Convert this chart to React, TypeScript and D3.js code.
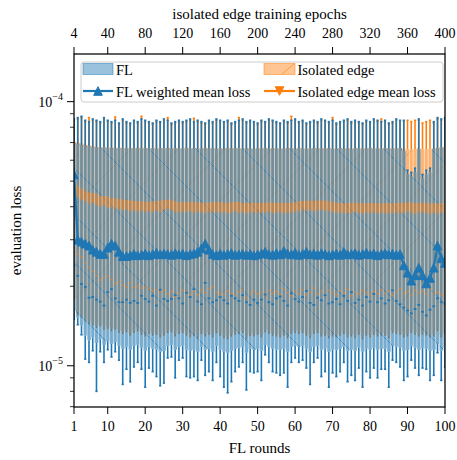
import React from "react";
import * as d3 from "d3";

const svgWidth = 457;
const svgHeight = 460;
const plot = { left: 74, right: 445, top: 54, bottom: 407 };
const font = "'Liberation Serif', 'Times New Roman', serif";
const blue = "#1f77b4";
const orange = "#ff7f0e";

// values below are in units of 1e-5
const U = 1e-5;

const roundTicks = [1, 10, 20, 30, 40, 50, 60, 70, 80, 90, 100];
const epochTicks = [4, 40, 80, 120, 160, 200, 240, 280, 320, 360, 400];
const yMajorTicks = [1e-5, 1e-4];
const yMinorTicks = [7e-6, 8e-6, 9e-6, 2e-5, 3e-5, 4e-5, 5e-5, 6e-5, 7e-5, 8e-5, 9e-5];

// FL (box per round)
const flMax = [
  8.6, 8.7, 8.8, 8.5, 8.4, 8.6, 8.5, 8.4, 8.7, 8.5,
  8.4, 8.5, 8.3, 8.6, 8.4, 8.3, 8.5, 8.4, 8.6, 8.5,
  8.4, 8.3, 8.5, 8.4, 8.6, 8.5, 8.3, 8.4, 8.5, 8.4,
  8.5, 8.6, 8.4, 8.5, 8.4, 8.3, 8.5, 8.4, 8.6, 8.5,
  8.4, 8.5, 8.3, 8.4, 8.5, 8.6, 8.4, 8.5, 8.4, 8.3,
  8.5, 8.4, 8.6, 8.5, 8.4, 8.3, 8.5, 8.4, 8.5, 8.6,
  8.4, 8.5, 8.3, 8.4, 8.5, 8.4, 8.6, 8.5, 8.4, 8.5,
  8.3, 8.4, 8.5, 8.6, 8.4, 8.5, 8.4, 8.3, 8.5, 8.4,
  8.6, 8.5, 8.4, 8.5, 8.3, 8.4, 8.6, 8.5, 8.5, 5.5,
  5.4, 5.6, 8.6, 5.3, 5.5, 5.6, 8.4, 8.7, 8.6, 8.7,
];
const flQ3 = [
  6.95, 6.9, 6.85, 6.8, 6.76, 6.72, 6.7, 6.68, 6.7, 6.66,
  6.68, 6.65, 6.67, 6.64, 6.66, 6.63, 6.65, 6.67, 6.64, 6.66,
  6.63, 6.65, 6.62, 6.66, 6.64, 6.67, 6.63, 6.65, 6.62, 6.64,
  6.66, 6.63, 6.65, 6.62, 6.64, 6.66, 6.63, 6.65, 6.61, 6.64,
  6.62, 6.65, 6.63, 6.66, 6.64, 6.62, 6.65, 6.63, 6.61, 6.64,
  6.63, 6.66, 6.62, 6.64, 6.65, 6.61, 6.63, 6.66, 6.64, 6.62,
  6.65, 6.63, 6.61, 6.64, 6.66, 6.62, 6.64, 6.63, 6.65, 6.61,
  6.63, 6.66, 6.62, 6.64, 6.61, 6.65, 6.63, 6.62, 6.64, 6.66,
  6.62, 6.64, 6.61, 6.65, 6.63, 6.62, 6.64, 6.66, 6.5, 5.3,
  5.2, 5.4, 6.6, 5.1, 5.3, 5.4, 6.62, 6.66, 6.7, 6.72,
];
const flMedian = [
  2.4, 2.19, 2.04, 1.99, 1.81, 1.82, 1.78, 1.75, 1.69, 1.9,
  1.95, 1.8, 1.74, 1.74, 1.78, 1.73, 1.76, 1.73, 1.84, 1.79,
  1.75, 1.84, 1.69, 1.94, 1.79, 1.76, 1.79, 1.85, 1.8, 1.72,
  1.89, 1.82, 1.95, 1.75, 1.71, 2.06, 1.8, 1.74, 1.77, 1.82,
  1.77, 1.72, 1.84, 1.8, 1.76, 1.85, 1.74, 1.7, 1.78, 1.73,
  1.78, 1.86, 1.74, 1.71, 1.8, 1.83, 1.76, 1.69, 1.88, 1.79,
  1.75, 1.82, 1.92, 1.73, 1.7, 1.81, 1.77, 1.85, 1.72, 1.74,
  1.79, 1.71, 1.84, 1.76, 1.9, 1.73, 1.78, 1.69, 1.82, 1.75,
  1.87, 1.74, 1.8, 1.72, 1.77, 1.93, 1.76, 1.71, 1.66, 1.62,
  1.58, 1.64, 1.7, 1.6, 1.55, 1.63, 1.68, 1.8, 1.74, 1.72,
];
const flQ1 = [
  1.62, 1.52, 1.42, 1.3, 1.25, 1.28, 1.22, 1.26, 1.2, 1.24,
  1.21, 1.23, 1.19, 1.16, 1.18, 1.15, 1.19, 1.2, 1.17, 1.14,
  1.18, 1.16, 1.15, 1.13, 1.14, 1.19, 1.2, 1.15, 1.18, 1.19,
  1.15, 1.14, 1.15, 1.13, 1.18, 1.15, 1.16, 1.13, 1.19, 1.15,
  1.13, 1.12, 1.14, 1.16, 1.17, 1.18, 1.12, 1.16, 1.15, 1.16,
  1.14, 1.2, 1.18, 1.16, 1.15, 1.15, 1.16, 1.13, 1.18, 1.19,
  1.18, 1.19, 1.16, 1.13, 1.18, 1.19, 1.15, 1.16, 1.13, 1.15,
  1.15, 1.16, 1.18, 1.14, 1.15, 1.14, 1.17, 1.13, 1.16, 1.15,
  1.17, 1.15, 1.16, 1.16, 1.13, 1.19, 1.18, 1.17, 1.14, 1.15,
  1.19, 1.17, 1.15, 1.17, 1.16, 1.14, 1.15, 1.21, 1.14, 1.17,
];
const flMin = [
  1.5, 1.43, 1.31, 1.06, 1.03, 1.14, 0.8, 1.13, 1.03, 1.15,
  1.08, 1.13, 1.05, 0.85, 0.97, 0.87, 0.99, 1.03, 0.97, 0.83,
  0.98, 0.95, 0.91, 0.84, 0.86, 1.07, 1.08, 0.9, 1.05, 1.07,
  0.91, 0.9, 0.91, 0.88, 1.05, 0.92, 0.95, 0.88, 1.03, 0.91,
  0.83, 0.79, 0.87, 0.95, 0.99, 1.03, 0.81, 0.95, 0.94, 0.95,
  0.88, 1.1, 1.03, 0.95, 0.94, 0.92, 0.94, 0.83, 1.03, 1.07,
  1.03, 1.05, 0.98, 0.85, 1.03, 1.07, 0.91, 0.95, 0.83, 0.94,
  0.91, 0.95, 1.03, 0.87, 0.92, 0.88, 0.98, 0.83, 0.95, 0.9,
  0.98, 0.9, 0.97, 0.97, 0.83, 1.05, 1.03, 0.99, 0.88, 0.91,
  1.05, 0.98, 0.92, 0.98, 0.97, 0.88, 0.92, 1.12, 0.88, 0.99,
];
const flMean = [
  5.3, 3.0, 2.95, 2.9, 2.85, 2.75, 2.7, 2.65, 2.65, 2.8,
  2.9, 2.85, 2.7, 2.6, 2.6, 2.62, 2.65, 2.62, 2.63, 2.66,
  2.62, 2.65, 2.68, 2.64, 2.66, 2.65, 2.63, 2.67, 2.64, 2.66,
  2.62, 2.65, 2.66, 2.7, 2.78, 2.9, 2.75, 2.65, 2.62, 2.66,
  2.63, 2.65, 2.67, 2.63, 2.64, 2.66, 2.63, 2.65, 2.62, 2.64,
  2.66, 2.7, 2.65, 2.63, 2.67, 2.64, 2.72, 2.66, 2.64, 2.68,
  2.63, 2.65, 2.7, 2.64, 2.66, 2.63, 2.67, 2.65, 2.62, 2.64,
  2.66, 2.63, 2.7, 2.64, 2.65, 2.67, 2.63, 2.65, 2.68, 2.64,
  2.66, 2.62, 2.65, 2.67, 2.64, 2.66, 2.63, 2.65, 2.4, 2.25,
  2.1, 2.2, 2.35, 2.2, 2.05, 2.15, 2.35, 2.85, 2.55, 2.45,
];

// Isolated edge (box per round)
const isoMax = [
  8.5, 8.6, 8.7, 8.4, 8.7, 8.5, 8.4, 8.3, 8.6, 8.4,
  8.3, 8.75, 8.2, 8.5, 8.3, 8.2, 8.4, 8.3, 8.8, 8.4,
  8.3, 8.2, 8.4, 8.3, 8.5, 8.7, 8.2, 8.3, 8.4, 8.3,
  8.4, 8.5, 8.65, 8.4, 8.3, 8.2, 8.4, 8.3, 8.5, 8.4,
  8.3, 8.4, 8.2, 8.3, 8.7, 8.5, 8.3, 8.4, 8.3, 8.2,
  8.4, 8.3, 8.5, 8.4, 8.3, 8.2, 8.4, 8.3, 8.8, 8.5,
  8.3, 8.4, 8.2, 8.3, 8.4, 8.3, 8.5, 8.4, 8.3, 8.7,
  8.2, 8.3, 8.4, 8.5, 8.3, 8.4, 8.3, 8.2, 8.4, 8.3,
  8.5, 8.4, 8.6, 8.4, 8.2, 8.3, 8.5, 8.4, 8.4, 8.5,
  8.4, 8.5, 8.5, 8.3, 8.4, 8.5, 8.3, 8.6, 8.5, 8.6,
];
const isoQ3 = [
  7.05, 7.0, 6.95, 6.88, 6.82, 6.78, 6.74, 6.72, 6.72, 6.7,
  6.7, 6.68, 6.7, 6.67, 6.69, 6.66, 6.68, 6.7, 6.67, 6.69,
  6.66, 6.68, 6.65, 6.69, 6.67, 6.7, 6.66, 6.68, 6.65, 6.67,
  6.69, 6.66, 6.68, 6.65, 6.67, 6.69, 6.66, 6.68, 6.64, 6.67,
  6.65, 6.68, 6.66, 6.69, 6.67, 6.65, 6.68, 6.66, 6.64, 6.67,
  6.66, 6.69, 6.65, 6.67, 6.68, 6.64, 6.66, 6.69, 6.67, 6.65,
  6.68, 6.66, 6.64, 6.67, 6.69, 6.65, 6.67, 6.66, 6.68, 6.64,
  6.66, 6.69, 6.65, 6.67, 6.64, 6.68, 6.66, 6.65, 6.67, 6.69,
  6.65, 6.67, 6.64, 6.68, 6.66, 6.65, 6.67, 6.69, 6.64, 6.6,
  6.58, 6.62, 6.66, 6.6, 6.61, 6.63, 6.65, 6.69, 6.72, 6.74,
];
const isoMedian = [
  2.75, 2.65, 2.58, 2.45, 2.36, 2.28, 2.19, 2.11, 2.15, 2.19,
  2.12, 2.05, 2.08, 2.02, 1.99, 2.06, 1.98, 2.01, 1.97, 1.99,
  1.95, 1.92, 1.94, 1.9, 1.93, 1.87, 1.91, 1.82, 1.88, 1.93,
  1.9, 1.86, 1.91, 1.86, 1.93, 1.89, 1.95, 1.99, 1.9, 1.87,
  1.86, 1.92, 1.88, 1.86, 1.9, 1.94, 1.81, 1.88, 1.92, 1.87,
  1.9, 1.85, 1.93, 1.88, 1.91, 1.86, 1.95, 1.89, 1.84, 1.92,
  1.88, 1.94, 1.86, 1.9, 1.97, 1.87, 1.91, 1.85, 1.93, 1.89,
  1.86, 1.92, 1.88, 1.95, 1.84, 1.9, 1.87, 1.93, 1.89, 1.86,
  1.91, 1.87, 1.94, 1.88, 1.92, 1.85, 1.9, 1.96, 1.88, 1.91,
  1.86, 1.93, 1.89, 1.92, 1.87, 1.95, 1.88, 1.9, 1.86, 1.91,
];
const isoQ1 = [
  1.8, 1.58, 1.55, 1.5, 1.47, 1.45, 1.42, 1.44, 1.4, 1.41,
  1.38, 1.4, 1.36, 1.35, 1.37, 1.33, 1.36, 1.38, 1.34, 1.32,
  1.35, 1.33, 1.34, 1.31, 1.33, 1.36, 1.37, 1.32, 1.35, 1.36,
  1.33, 1.31, 1.33, 1.3, 1.35, 1.32, 1.34, 1.31, 1.36, 1.33,
  1.3, 1.29, 1.32, 1.34, 1.35, 1.36, 1.29, 1.33, 1.32, 1.34,
  1.31, 1.37, 1.35, 1.33, 1.32, 1.31, 1.33, 1.3, 1.35, 1.36,
  1.35, 1.36, 1.33, 1.3, 1.35, 1.36, 1.32, 1.33, 1.3, 1.32,
  1.31, 1.33, 1.35, 1.31, 1.32, 1.3, 1.34, 1.29, 1.33, 1.31,
  1.34, 1.32, 1.33, 1.33, 1.3, 1.36, 1.35, 1.34, 1.31, 1.32,
  1.36, 1.34, 1.32, 1.34, 1.33, 1.31, 1.32, 1.38, 1.31, 1.34,
];
const isoMin = [
  1.77, 1.55, 1.52, 1.47, 1.44, 1.42, 1.39, 1.41, 1.37, 1.38,
  1.35, 1.37, 1.33, 1.32, 1.34, 1.3, 1.33, 1.35, 1.31, 1.29,
  1.32, 1.3, 1.31, 1.28, 1.3, 1.33, 1.34, 1.29, 1.32, 1.33,
  1.3, 1.28, 1.3, 1.27, 1.32, 1.29, 1.31, 1.28, 1.33, 1.3,
  1.27, 1.26, 1.29, 1.31, 1.32, 1.33, 1.26, 1.3, 1.29, 1.31,
  1.28, 1.34, 1.32, 1.3, 1.29, 1.28, 1.3, 1.27, 1.32, 1.33,
  1.32, 1.33, 1.3, 1.27, 1.32, 1.33, 1.29, 1.3, 1.27, 1.29,
  1.28, 1.3, 1.32, 1.28, 1.29, 1.27, 1.31, 1.26, 1.3, 1.28,
  1.31, 1.29, 1.3, 1.3, 1.27, 1.33, 1.32, 1.31, 1.28, 1.29,
  1.33, 1.31, 1.29, 1.31, 1.3, 1.28, 1.29, 1.35, 1.28, 1.31,
];
const isoMean = [
  4.6, 4.5, 4.4, 4.35, 4.25, 4.3, 4.2, 4.15, 4.2, 4.1,
  4.12, 4.05, 4.08, 4.02, 4.05, 3.98, 4.02, 3.97, 4.0, 3.96,
  3.99, 3.95, 4.01, 3.96, 4.04, 4.06, 4.02, 3.97, 3.94, 3.98,
  3.95, 3.99, 3.93, 3.97, 3.95, 3.92, 3.96, 3.94, 3.98, 3.93,
  3.96, 3.92, 3.95, 3.98, 3.93, 3.95, 3.91, 3.96, 3.94, 3.92,
  3.95, 3.93, 3.97, 3.92, 3.94, 3.96, 3.91, 3.95, 3.93, 3.97,
  3.99, 4.02, 4.0, 4.03, 3.98, 4.01, 4.04, 3.99, 4.0, 3.96,
  3.93, 3.95, 3.91, 3.94, 3.92, 3.96, 3.93, 3.9, 3.94, 3.92,
  3.95, 3.91, 3.93, 3.9, 3.94, 3.92, 3.95, 3.91, 3.93, 3.97,
  3.94, 3.9, 3.93, 3.96, 3.92, 3.89, 3.93, 3.91, 3.94, 3.92,
];

const rounds = flMean.map((_, i) => i + 1);

const triUp = (cx: number, cy: number, s = 4.3) =>
  `M${cx},${cy - s}L${cx + s},${cy + s}L${cx - s},${cy + s}Z`;
const triDown = (cx: number, cy: number, s = 4.3) =>
  `M${cx},${cy + s}L${cx + s},${cy - s}L${cx - s},${cy - s}Z`;

const App = () => {
  const x = d3.scaleLinear().domain([1, 100]).range([plot.left, plot.right]);
  const y = d3.scaleLog().domain([6.98e-6, 1.515e-4]).range([plot.bottom, plot.top]);
  const step = x(2) - x(1);
  const boxW = step;
  const capHalf = 1.1;

  const meanLine = d3
    .line<number>()
    .x((_, i) => x(rounds[i]))
    .y((d) => y(d * U));

  // sparse hatch diagonals
  const hatchK = d3.range(-12, 14);

  const boxRect = (lo: number, hi: number, cx: number, w: number) => ({
    x: cx - w / 2,
    y: y(hi * U),
    width: w,
    height: y(lo * U) - y(hi * U),
  });

  return (
    <svg
      width={svgWidth}
      height={svgHeight}
      style={{ position: "absolute", left: 0, top: 0, background: "white" }}
      fontFamily={font}
    >
      <defs>
        <clipPath id="plotArea">
          <rect
            x={plot.left}
            y={plot.top}
            width={plot.right - plot.left}
            height={plot.bottom - plot.top}
          />
        </clipPath>
        <clipPath id="isoBoxes">
          {rounds.map((r, i) => (
            <rect key={i} {...boxRect(isoQ1[i], isoQ3[i], x(r), boxW)} />
          ))}
        </clipPath>
        <clipPath id="flBoxes">
          {rounds.map((r, i) => (
            <rect key={i} {...boxRect(flQ1[i], flQ3[i], x(r), boxW)} />
          ))}
        </clipPath>
        <clipPath id="isoPatch">
          <rect x={264} y={63.5} width={31} height={11} />
        </clipPath>
      </defs>

      <g clipPath="url(#plotArea)">
        {/* isolated edge boxes */}
        {rounds.map((r, i) => (
          <rect
            key={"ib" + i}
            {...boxRect(isoQ1[i], isoQ3[i], x(r), boxW)}
            fill={orange}
            fillOpacity={0.6}
          />
        ))}
        <g clipPath="url(#isoBoxes)">
          {hatchK.map((k) => (
            <line
              key={"ih" + k}
              x1={280 + 47 * k + 300}
              y1={-300}
              x2={280 + 47 * k - 300}
              y2={300}
              stroke={orange}
              strokeOpacity={0.55}
              strokeWidth={1}
            />
          ))}
        </g>
        {rounds.map((r, i) => {
          const cx = x(r);
          return (
            <g key={"iw" + i} stroke={orange} strokeWidth={1.6}>
              <line x1={cx} x2={cx} y1={y(isoQ3[i] * U)} y2={y(isoMax[i] * U)} />
              <line x1={cx} x2={cx} y1={y(isoQ1[i] * U)} y2={y(isoMin[i] * U)} />
              <line x1={cx - capHalf} x2={cx + capHalf} y1={y(isoMax[i] * U)} y2={y(isoMax[i] * U)} />
            </g>
          );
        })}
        {/* separators of the isolated edge boxes where they stick out */}
        {rounds.map((r, i) =>
          isoQ3[i] > flQ3[i] + 0.3 ? (
            <line
              key={"is" + i}
              x1={x(r) - step / 2}
              x2={x(r) - step / 2}
              y1={y(isoQ3[i] * U)}
              y2={y(flQ3[i] * U)}
              stroke="#fff4e8"
              strokeOpacity={0.6}
              strokeWidth={1}
            />
          ) : null
        )}

        {/* FL boxes */}
        {rounds.map((r, i) => (
          <rect
            key={"fb" + i}
            {...boxRect(flQ1[i], flQ3[i], x(r), boxW)}
            fill={blue}
            fillOpacity={0.62}
          />
        ))}
        <g clipPath="url(#flBoxes)">
          {hatchK.map((k) => (
            <line
              key={"fh" + k}
              x1={123 + 47 * k - 300}
              y1={170 - 300}
              x2={123 + 47 * k + 300}
              y2={170 + 300}
              stroke={blue}
              strokeOpacity={0.65}
              strokeWidth={1}
            />
          ))}
        </g>
        {/* isolated edge median and mean, seen through the FL boxes */}
        {rounds.map((r, i) => (
          <line
            key={"imd" + i}
            x1={x(r) - step * 0.38}
            x2={x(r) + step * 0.38}
            y1={y(isoMedian[i] * U)}
            y2={y(isoMedian[i] * U)}
            stroke={orange}
            strokeOpacity={0.45}
            strokeWidth={1.8}
          />
        ))}
        <g opacity={0.5}>
          <path d={meanLine(isoMean) || ""} fill="none" stroke={orange} strokeWidth={2.2} />
          {rounds.map((r, i) => (
            <path
              key={"im" + i}
              d={triDown(x(r), y(isoMean[i] * U), 4.7)}
              fill={orange}
              stroke={orange}
              strokeWidth={1}
            />
          ))}
        </g>
        {/* light box separators */}
        {rounds.map((r, i) => (
          <line
            key={"fs" + i}
            x1={x(r) - step / 2}
            x2={x(r) - step / 2}
            y1={y(Math.min(flQ3[i], isoQ3[i]) * U)}
            y2={y(flQ1[i] * U)}
            stroke="#fff4e8"
            strokeOpacity={0.55}
            strokeWidth={1}
          />
        ))}
        {rounds.map((r, i) => {
          const cx = x(r);
          return (
            <g key={"fw" + i} stroke={blue} strokeWidth={1.6}>
              <line x1={cx} x2={cx} y1={y(flQ3[i] * U)} y2={y(flMax[i] * U)} />
              <line x1={cx} x2={cx} y1={y(flQ1[i] * U)} y2={y(flMin[i] * U)} />
              <line x1={cx - capHalf} x2={cx + capHalf} y1={y(flMax[i] * U)} y2={y(flMax[i] * U)} />
              <line x1={cx - capHalf} x2={cx + capHalf} y1={y(flMin[i] * U)} y2={y(flMin[i] * U)} />
              <line x1={cx - step * 0.38} x2={cx + step * 0.38} y1={y(flMedian[i] * U)} y2={y(flMedian[i] * U)} strokeWidth={1.8} />
            </g>
          );
        })}
        <path d={meanLine(flMean) || ""} fill="none" stroke={blue} strokeWidth={2.2} />
        {rounds.map((r, i) => (
          <path
            key={"fm" + i}
            d={triUp(x(r), y(flMean[i] * U))}
            fill={blue}
            stroke={blue}
            strokeWidth={1}
          />
        ))}
      </g>

      {/* frame */}
      <rect
        x={plot.left}
        y={plot.top}
        width={plot.right - plot.left}
        height={plot.bottom - plot.top}
        fill="none"
        stroke="black"
        strokeWidth={1.25}
      />

      {/* bottom axis */}
      {roundTicks.map((t) => (
        <g key={"bt" + t}>
          <line x1={x(t)} x2={x(t)} y1={plot.bottom} y2={plot.bottom + 7} stroke="black" strokeWidth={1} />
          <text x={x(t)} y={plot.bottom + 24} textAnchor="middle" fontSize={14}>
            {t}
          </text>
        </g>
      ))}
      <text x={(plot.left + plot.right) / 2} y={453} textAnchor="middle" fontSize={15}>
        FL rounds
      </text>

      {/* top axis */}
      {epochTicks.map((t) => (
        <g key={"tt" + t}>
          <line x1={x(t / 4)} x2={x(t / 4)} y1={plot.top} y2={plot.top - 7} stroke="black" strokeWidth={1} />
          <text x={x(t / 4)} y={plot.top - 16} textAnchor="middle" fontSize={14}>
            {t}
          </text>
        </g>
      ))}
      <text x={(plot.left + plot.right) / 2} y={19} textAnchor="middle" fontSize={15}>
        isolated edge training epochs
      </text>

      {/* left axis */}
      {yMajorTicks.map((t) => (
        <g key={"ym" + t}>
          <line x1={plot.left} x2={plot.left - 7} y1={y(t)} y2={y(t)} stroke="black" strokeWidth={1} />
          <text x={plot.left - 11} y={y(t) + 5} textAnchor="end" fontSize={14}>
            10
            <tspan dy={-7} fontSize={10}>
              {"\u2212" + Math.round(-Math.log10(t))}
            </tspan>
          </text>
        </g>
      ))}
      {yMinorTicks.map((t) => (
        <line key={"yn" + t} x1={plot.left} x2={plot.left - 4} y1={y(t)} y2={y(t)} stroke="black" strokeWidth={0.8} />
      ))}
      <text
        transform={`translate(21,${(plot.top + plot.bottom) / 2}) rotate(-90)`}
        textAnchor="middle"
        fontSize={15}
      >
        evaluation loss
      </text>

      {/* legend */}
      <rect x={81} y={62} width={362} height={40} rx={3} fill="white" fillOpacity={0.8} stroke="#cccccc" strokeWidth={1} />
      <rect x={83} y={63.5} width={30} height={11} fill={blue} fillOpacity={0.45} stroke={blue} strokeOpacity={0.5} strokeWidth={1} />
      <text x={116} y={74.5} fontSize={14.5}>FL</text>
      <line x1={83} x2={113} y1={91} y2={91} stroke={blue} strokeWidth={2.2} />
      <path d={triUp(98, 91)} fill={blue} stroke={blue} strokeWidth={1} />
      <text x={116} y={96.5} fontSize={14.5}>FL weighted mean loss</text>

      <rect x={264} y={63.5} width={31} height={11} fill={orange} fillOpacity={0.45} stroke={orange} strokeOpacity={0.5} strokeWidth={1} />
      <g clipPath="url(#isoPatch)">
        <line x1={281} y1={75} x2={296} y2={62} stroke={orange} strokeOpacity={0.6} strokeWidth={1} />
      </g>
      <text x={297.5} y={74.5} fontSize={14.5}>Isolated edge</text>
      <line x1={264} x2={295} y1={91} y2={91} stroke={orange} strokeWidth={2.2} />
      <path d={triDown(279.5, 91)} fill={orange} stroke={orange} strokeWidth={1} />
      <text x={297.5} y={96.5} fontSize={14.5}>Isolated edge mean loss</text>
    </svg>
  );
};

export default App;
